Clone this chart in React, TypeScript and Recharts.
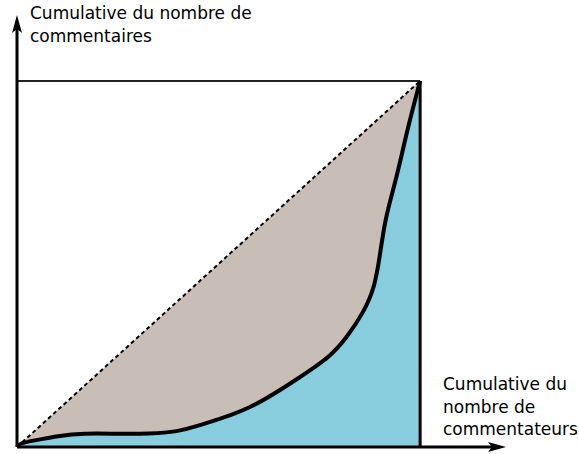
import React from "react";
import {
  ComposedChart,
  Area,
  Line,
  XAxis,
  YAxis,
  ReferenceLine,
  ReferenceDot,
} from "recharts";

// cumulative share of commenters (x) vs cumulative share of comments (y)
const sharePeople = [0, 0.7, 5.0, 9.9, 16.6, 24.8, 33.0, 39.7, 45.4, 57.8, 70.2, 77.7, 81.9, 85.9, 88.8, 90.1, 91.3, 93.3, 95.0, 96.8, 100];
const shareComments = [0, 1.1, 1.9, 3.0, 3.8, 3.6, 3.6, 4.1, 6.0, 10.1, 19.1, 24.6, 30.1, 36.6, 43.7, 53.0, 62.0, 70.2, 77.6, 86.6, 100];

const X_MAX = 121.3;
const Y_MAX = 118;

const data = sharePeople.map((x, i) => ({
  x,
  equality: x,
  lorenz: shareComments[i],
}));

const font = "'DejaVu Sans', sans-serif";

const UpArrow = (p: any) => (
  <path
    d={`M ${p.cx} ${p.cy} L ${p.cx + 5} ${p.cy + 18} L ${p.cx} ${p.cy + 14} L ${p.cx - 5} ${p.cy + 18} Z`}
    fill="#000"
  />
);

const RightArrow = (p: any) => (
  <path
    d={`M ${p.cx} ${p.cy} L ${p.cx - 18} ${p.cy + 5} L ${p.cx - 14} ${p.cy} L ${p.cx - 18} ${p.cy - 5} Z`}
    fill="#000"
  />
);

const App = () => {
  return (
    <div style={{ position: "fixed", left: 0, top: 0, width: 579, height: 454, background: "#fff" }}>
      <ComposedChart
        width={579}
        height={454}
        data={data}
        margin={{ top: 15, right: 73, left: 17, bottom: 7 }}
      >
        <XAxis dataKey="x" type="number" domain={[0, X_MAX]} hide />
        <YAxis type="number" domain={[0, Y_MAX]} hide />
        <Area
          dataKey="equality"
          type="linear"
          fill="#C8BEB7"
          fillOpacity={1}
          stroke="none"
          isAnimationActive={false}
        />
        <Area
          dataKey="lorenz"
          type="basis"
          fill="#87CDDE"
          fillOpacity={1}
          stroke="#000"
          strokeWidth={4}
          isAnimationActive={false}
        />
        <Line
          dataKey="equality"
          type="linear"
          stroke="#000"
          strokeWidth={2}
          strokeDasharray="4 3"
          dot={false}
          isAnimationActive={false}
        />
        <ReferenceLine segment={[{ x: 0, y: 100 }, { x: 100, y: 100 }]} stroke="#222" strokeWidth={2} ifOverflow="visible" />
        <ReferenceLine segment={[{ x: 100, y: 0 }, { x: 100, y: 100 }]} stroke="#000" strokeWidth={3} ifOverflow="visible" />
        <ReferenceLine segment={[{ x: 0, y: 0 }, { x: 0, y: Y_MAX - 3 }]} stroke="#000" strokeWidth={3} ifOverflow="visible" />
        <ReferenceLine segment={[{ x: 0, y: 0 }, { x: X_MAX - 3, y: 0 }]} stroke="#000" strokeWidth={3} ifOverflow="visible" />
        <ReferenceDot x={0} y={Y_MAX} shape={UpArrow} ifOverflow="visible" />
        <ReferenceDot x={X_MAX} y={0} shape={RightArrow} ifOverflow="visible" />
      </ComposedChart>
      <div style={{ position: "absolute", left: 30, top: 2, fontFamily: font, fontSize: 17, lineHeight: "23px", color: "#000" }}>
        Cumulative du nombre de<br />commentaires
      </div>
      <div style={{ position: "absolute", left: 443, top: 373, fontFamily: font, fontSize: 17, lineHeight: "22.5px", color: "#000" }}>
        Cumulative du<br />nombre de<br />commentateurs
      </div>
    </div>
  );
};

export default App;
